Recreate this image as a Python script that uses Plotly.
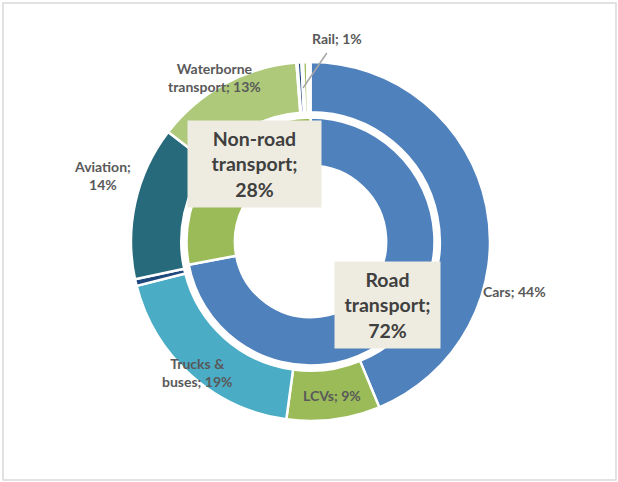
import plotly.graph_objects as go

# ---- data ----
outer_labels = ["Cars", "LCVs", "Trucks & buses", "Other road", "Aviation",
                "Waterborne transport", "Gap 1", "Rail", "Gap 2", "Other non-road", "Gap 3"]
outer_values = [43.7, 8.4, 18.85, 0.6, 13.8, 13.3, 0.1, 0.35, 0.15, 0.35, 0.3]
outer_text = ["Cars; 44%", "LCVs; 9%", "Trucks &<br>buses; 19%", "", "Aviation;<br>14%",
              "Waterborne<br>transport; 13%", "", "Rail; 1%", "", "", ""]
outer_colors = ["#4F81BD", "#9BBB59", "#4BACC6", "#1F497D", "#276A7B",
                "#ADC979", "#FFFFFF", "#1F497D", "#FFFFFF", "#9BBB59", "#FFFFFF"]

inner_labels = ["Road transport", "Non-road transport"]
inner_values = [72, 28]
inner_text = ["Road<br>transport;<br>72%", "Non-road<br>transport;<br>28%"]
inner_colors = ["#4F81BD", "#9BBB59"]

W, H = 618, 482
FONT = "Lato"


def px(x):
    return x / W


def py(y):
    return 1 - y / H


fig = go.Figure()

# outer ring
cx, cy, R = 310.5, 241.5, 179.5
fig.add_trace(go.Pie(
    labels=outer_labels, values=outer_values, sort=False, direction="clockwise",
    rotation=0, hole=0.72, textinfo="none", hoverinfo="label+percent",
    marker=dict(colors=outer_colors, line=dict(color="white", width=2.5)),
    domain=dict(x=[px(cx - R), px(cx + R)], y=[py(cy + R), py(cy - R)]),
    showlegend=False,
))

# inner ring
r = 124
fig.add_trace(go.Pie(
    labels=inner_labels, values=inner_values, sort=False, direction="clockwise",
    rotation=0, hole=0.61, textinfo="none", hoverinfo="label+percent",
    marker=dict(colors=inner_colors, line=dict(color="white", width=2.5)),
    domain=dict(x=[px(cx - r), px(cx + r)], y=[py(cy + r), py(cy - r)]),
    showlegend=False,
))

annotations = []
outer_pos = {
    "Cars": (514, 291),
    "LCVs": (331.5, 395),
    "Trucks & buses": (197, 372),
    "Aviation": (102, 175),
    "Waterborne transport": (214.5, 78),
}
for lab, txt in zip(outer_labels, outer_text):
    if lab in outer_pos:
        x, y = outer_pos[lab]
        annotations.append(dict(
            x=px(x), y=py(y), xref="paper", yref="paper", text=txt, showarrow=False,
            xanchor="center", yanchor="middle",
            font=dict(family=FONT, size=14, color="#595959", weight="bold"), align="center",
        ))

rail_txt = outer_text[outer_labels.index("Rail")]
annotations.append(dict(
    x=px(303), y=py(88), xref="paper", yref="paper", text=rail_txt,
    showarrow=True, arrowhead=0, arrowwidth=1.5, arrowcolor="#A6A6A6",
    ax=34, ay=-50, startstandoff=6,
    font=dict(family=FONT, size=14, color="#595959", weight="bold"),
))

inner_pos = {
    "Road transport": (387.5, 305),
    "Non-road transport": (254, 163.5),
}
for lab, txt in zip(inner_labels, inner_text):
    x, y = inner_pos[lab]
    annotations.append(dict(
        x=px(x), y=py(y), xref="paper", yref="paper", text=txt, showarrow=False,
        xanchor="center", yanchor="middle",
        font=dict(family=FONT, size=19.5, color="#404040", weight="bold"), align="center",
        bgcolor="#EEECE1", borderpad=4, width=97 if lab == "Road transport" else 125,
        height=78,
    ))

fig.update_layout(
    width=W, height=H, margin=dict(l=0, r=0, t=0, b=0),
    paper_bgcolor="white", plot_bgcolor="white",
    annotations=annotations,
    shapes=[dict(type="rect", xref="paper", yref="paper",
                 x0=px(3), x1=px(616), y0=py(480), y1=py(3),
                 line=dict(color="#D9D9D9", width=1.5))],
)

fig.write_html("out.html", config={"displayModeBar": False},
               post_script="document.body.style.margin='0px';")
